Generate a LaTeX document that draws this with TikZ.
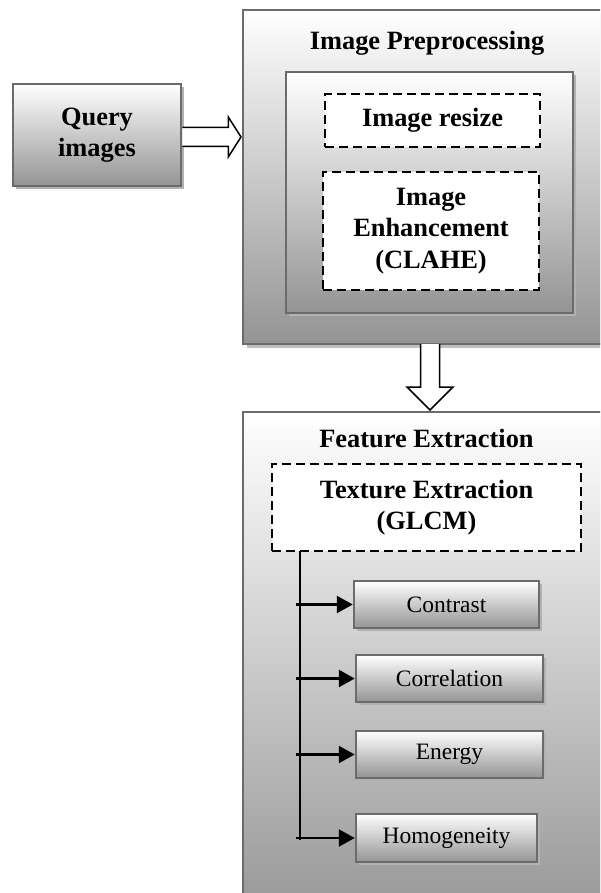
\documentclass[tikz,border=0pt]{standalone}
\usepackage{fontspec}
\setmainfont{Liberation Serif}
\usetikzlibrary{shadows,arrows.meta,calc}
\tikzset{
  gradbox/.style={draw=black!58, line width=2.5pt, top color=white, bottom color=black!42,
    inner sep=0pt, align=center,
    drop shadow={shadow xshift=3pt, shadow yshift=-3pt, fill=black!30, opacity=1}},
  bigbox/.style={draw=black!58, line width=2.5pt, top color=white, bottom color=black!42,
    inner sep=0pt,
    drop shadow={shadow xshift=4pt, shadow yshift=-4pt, fill=black!25, opacity=1}},
  dashbox/.style={draw=black, fill=white, line width=2pt, dash pattern=on 9pt off 5pt,
    inner sep=0pt, align=center},
  boldtxt/.style={font=\bfseries\fontsize{26.4}{31.5}\selectfont},
  regtxt/.style={font=\fontsize{23.5}{28}\selectfont},
  blockarrow/.style={draw=black, fill=white, line width=1.5pt, line join=miter},
  leafarrow/.style={draw=black, line width=2.4pt, -{Triangle[length=16pt,width=17pt]}}
}
\begin{document}
\begin{tikzpicture}[x=1pt,y=-1pt]
\useasboundingbox (0,0) rectangle (600,893);
\clip (0,0) rectangle (600,893);
\fill[white] (0,0) rectangle (600,893);

% Query images
\node[gradbox, boldtxt, minimum width=168pt, minimum height=102pt] (q) at (97,135) {Query\\images};

% Image Preprocessing
\node[bigbox, minimum width=372pt, minimum height=334pt] (pre) at (429,177) {};
\node[boldtxt, anchor=base] (pretitle) at (427,50) {Image Preprocessing};
\node[gradbox, minimum width=287pt, minimum height=241pt] (preinner) at (429.5,192.5) {};
\node[dashbox, boldtxt, minimum width=215pt, minimum height=53pt] (resize) at (432.5,120.5) {Image resize};
\node[dashbox, boldtxt, minimum width=216pt, minimum height=118pt] (enh) at (431,231) {Image\\Enhancement\\(CLAHE)};

% right block arrow
\coordinate (rtip) at (241,137);
\draw[blockarrow] ($(q.east)+(0,-7.5)$) -- ++(46,0) -- ++(0,-10.5) -- (rtip)
  -- ($(q.east)+(46,22)$) -- ++(0,-10.5) -- ($(q.east)+(0,11.5)$);

% Feature Extraction
\node[bigbox, minimum width=372pt, minimum height=518pt] (feat) at (429,671) {};
\node[boldtxt, anchor=base] (feattitle) at (426.5,447) {Feature Extraction};
\node[dashbox, boldtxt, minimum width=309pt, minimum height=87pt] (tex) at (426.5,507.5) {Texture Extraction\\(GLCM)};

% down block arrow
\coordinate (dtop) at (430,344);
\coordinate (dtip) at (430,410);
\draw[blockarrow] ($(dtop)+(-9.5,0)$) -- ++(0,43) -- ++(-13.5,0) -- (dtip)
  -- ($(dtop)+(23,43)$) -- ++(-13.5,0) -- ($(dtop)+(9.5,0)$);

% leaf boxes
\node[gradbox, regtxt, minimum width=185pt, minimum height=47pt] (c1) at (446.5,604.5) {Contrast};
\node[gradbox, regtxt, minimum width=187pt, minimum height=47pt] (c2) at (449.5,678.5) {Correlation};
\node[gradbox, regtxt, minimum width=187pt, minimum height=47pt] (c3) at (449.5,754.5) {Energy};
\node[gradbox, regtxt, minimum width=181pt, minimum height=48pt] (c4) at (446.5,838) {Homogeneity};

% tree
\coordinate (vtop) at (300,551);
\coordinate (vbot) at (300,840);
\draw[line width=2pt] (vtop) -- (vbot);
\foreach \n in {c1,c2,c3,c4}{
  \draw[leafarrow] (296,0 |- \n.west) -- (\n.west);
}
\end{tikzpicture}
\end{document}
